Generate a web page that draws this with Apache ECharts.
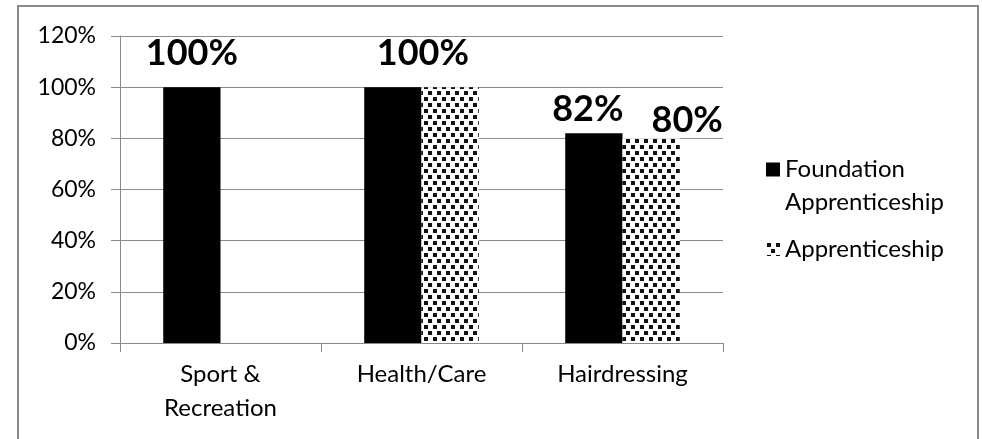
<!DOCTYPE html>
<html>
<head>
<meta charset="utf-8">
<script src="https://cdn.jsdelivr.net/npm/echarts@6/dist/echarts.min.js"></script>
<style>
  html, body { margin: 0; padding: 0; background: #fff; }
  #chart { width: 982px; height: 439px; }
</style>
</head>
<body>
<div id="chart"></div>
<script>
// data
const categories = ['Sport &\nRecreation', 'Health/Care', 'Hairdressing'];
const foundationValues = [100, 100, 82];
const apprenticeshipValues = [null, 100, 80];
const yMax = 120;
const yStep = 20;

// label tweaks per bar (the Health/Care label sits between the two bars)
const foundationLabelOffset = [[0, -16], [30, -16], [-6, -6]];
const apprenticeshipLabelOffset = [null, null, [36, 0]];

// dotted fill for the Apprenticeship series
function makePattern() {
  const c = document.createElement('canvas');
  c.width = 9;
  c.height = 12;
  const ctx = c.getContext('2d');
  ctx.fillStyle = '#fff';
  ctx.fillRect(0, 0, 9, 12);
  ctx.fillStyle = '#111';
  ctx.fillRect(1, 1, 4, 4);
  ctx.fillRect(5, 7, 4, 4);
  return c;
}
const dots = { image: makePattern(), repeat: 'repeat' };

const FONT = 'Lato';

const labelBase = {
  show: true,
  position: 'top',
  distance: 0,
  formatter: '{c}%',
  fontFamily: FONT,
  fontWeight: 'bold',
  fontSize: 36,
  lineHeight: 36,
  color: '#000'
};

function buildData(values, offsets) {
  return values.map((v, i) => {
    if (v === null) return '-';
    const off = offsets[i];
    return {
      value: v,
      label: off ? Object.assign({}, labelBase, { offset: off }) : { show: false }
    };
  });
}

const chart = echarts.init(document.getElementById('chart'));

const option = {
  animation: false,
  grid: {
    left: 120,
    right: 259,
    top: 36,
    bottom: 96
  },
  graphic: [
    {
      type: 'rect',
      shape: { x: 18, y: 6, width: 960, height: 450 },
      style: { fill: 'none', stroke: '#8a8a8a', lineWidth: 2 },
      silent: true
    }
  ],
  legend: [
    {
      orient: 'vertical',
      left: 766,
      top: 120,
      padding: 0,
      icon: 'rect',
      itemWidth: 14,
      itemHeight: 14,
      data: ['Foundation Apprenticeship'],
      // blank first line keeps the marker level with "Foundation"
      formatter: () => ' \nFoundation\nApprenticeship',
      textStyle: {
        fontFamily: FONT,
        fontSize: 24,
        lineHeight: 33,
        color: '#000'
      }
    },
    {
      orient: 'vertical',
      left: 766,
      top: 237,
      padding: 0,
      icon: 'rect',
      itemWidth: 14,
      itemHeight: 14,
      data: ['Apprenticeship'],
      textStyle: {
        fontFamily: FONT,
        fontSize: 24,
        color: '#000'
      }
    }
  ],
  xAxis: {
    type: 'category',
    data: categories,
    axisLine: { lineStyle: { color: '#8a8a8a', width: 1 } },
    axisTick: { show: true, length: 9, lineStyle: { color: '#8a8a8a' } },
    axisLabel: {
      fontFamily: FONT,
      fontSize: 24,
      lineHeight: 34,
      color: '#000',
      margin: 14
    }
  },
  yAxis: {
    type: 'value',
    min: 0,
    max: yMax,
    interval: yStep,
    axisLine: { show: true, lineStyle: { color: '#8a8a8a', width: 1 } },
    axisTick: { show: true, length: 9, lineStyle: { color: '#8a8a8a' } },
    splitLine: { lineStyle: { color: '#8a8a8a', width: 1 } },
    axisLabel: {
      formatter: '{value}%',
      fontFamily: FONT,
      fontSize: 23,
      color: '#000',
      margin: 24
    }
  },
  series: [
    {
      name: 'Foundation Apprenticeship',
      type: 'bar',
      data: buildData(foundationValues, foundationLabelOffset),
      barGap: '0%',
      barCategoryGap: '43%',
      itemStyle: { color: '#000' }
    },
    {
      name: 'Apprenticeship',
      type: 'bar',
      data: buildData(apprenticeshipValues, apprenticeshipLabelOffset),
      barGap: '0%',
      barCategoryGap: '43%',
      itemStyle: { color: dots }
    }
  ]
};

chart.setOption(option);
</script>
</body>
</html>
